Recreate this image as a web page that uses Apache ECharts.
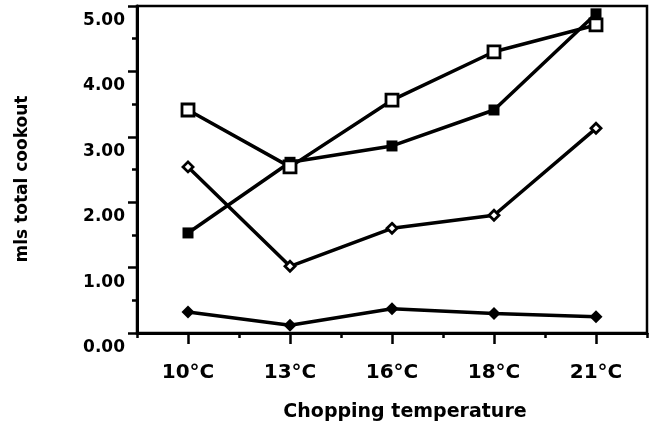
<!DOCTYPE html>
<html>
<head>
<meta charset="utf-8">
<script src="https://cdn.jsdelivr.net/npm/echarts@6/dist/echarts.min.js"></script>
<style>html,body{margin:0;padding:0;background:#fff}#c{width:653px;height:428px}</style>
</head>
<body>
<div id="c"></div>
<script>
const categories = ['10°C', '13°C', '16°C', '18°C', '21°C'];
const openSquares = [3.41, 2.54, 3.56, 4.30, 4.71];
const filledSquares = [1.53, 2.61, 2.86, 3.41, 4.88];
const openDiamonds = [2.54, 1.02, 1.60, 1.80, 3.13];
const filledDiamonds = [0.32, 0.12, 0.37, 0.30, 0.25];
const yTicks = { min: 0, max: 5, interval: 1 };
const xTitle = 'Chopping temperature';
const yTitle = 'mls total cookout';

const FONT = 'DejaVu Sans';
const chart = echarts.init(document.getElementById('c'), null, { renderer: 'canvas' });

function lineSeries(data, symbol, size, fill, z) {
  return {
    type: 'line', data: data, xAxisIndex: 0, yAxisIndex: 0,
    symbol: symbol, symbolSize: size, z: z,
    lineStyle: { color: '#000', width: 3.5 },
    itemStyle: { color: fill, borderColor: '#000', borderWidth: fill === '#fff' ? 2.8 : 0 },
    emphasis: { disabled: true }
  };
}

chart.setOption({
  animation: false,
  backgroundColor: '#fff',
  grid: { left: 137, right: 6, top: 6, bottom: 95, show: true, borderColor: '#000', borderWidth: 2.5, backgroundColor: 'transparent' },
  xAxis: [
    {
      type: 'category', data: categories, boundaryGap: true, position: 'bottom',
      axisLine: { show: true, lineStyle: { color: '#000', width: 3 } },
      axisTick: { show: true, alignWithLabel: true, length: 11, lineStyle: { color: '#000', width: 2.5 } },
      axisLabel: { show: true, margin: 30, color: '#000', fontFamily: FONT, fontWeight: 'bold', fontSize: 20 },
      splitLine: { show: false }
    },
    {
      type: 'category', data: categories, boundaryGap: true, position: 'bottom',
      axisLine: { show: false },
      axisTick: { show: true, length: 5, lineStyle: { color: '#000', width: 2.5 } },
      axisLabel: { show: false },
      splitLine: { show: false }
    }
  ],
  yAxis: {
    type: 'value', min: yTicks.min, max: yTicks.max, interval: yTicks.interval,
    axisLine: { show: true, lineStyle: { color: '#000', width: 3 } },
    axisTick: { show: true, length: 9, lineStyle: { color: '#000', width: 2.5 } },
    minorTick: { show: true, splitNumber: 2, length: 5, lineStyle: { color: '#000', width: 2.5 } },
    axisLabel: {
      margin: 12, color: '#000', fontFamily: FONT, fontWeight: 'bold', fontSize: 17,
      verticalAlign: 'top', lineHeight: 29,
      formatter: function (v) { return v.toFixed(2); }
    },
    splitLine: { show: false },
    minorSplitLine: { show: false }
  },
  graphic: [
    {
      type: 'text', x: 405, y: 412,
      style: { text: xTitle, fill: '#000', font: 'bold 19px "DejaVu Sans"', textAlign: 'center', textVerticalAlign: 'middle' }
    },
    {
      type: 'text', x: 23, y: 179, rotation: Math.PI / 2,
      style: { text: yTitle, fill: '#000', font: 'bold 17px "DejaVu Sans"', textAlign: 'center', textVerticalAlign: 'middle' }
    }
  ],
  series: [
    lineSeries(filledDiamonds, 'diamond', 13, '#000', 2),
    lineSeries(openDiamonds, 'diamond', 10, '#fff', 3),
    lineSeries(filledSquares, 'rect', 11, '#000', 4),
    lineSeries(openSquares, 'rect', 12, '#fff', 5)
  ]
});
</script>
</body>
</html>
